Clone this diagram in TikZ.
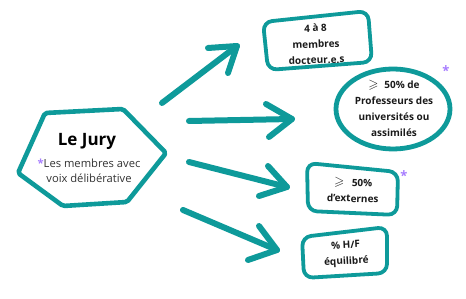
\documentclass[tikz,border=0pt]{standalone}
\usepackage{amssymb}
\usepackage{fontspec}
\setmainfont{Open Sans}
\definecolor{teal1}{HTML}{0E9A9A}
\definecolor{star}{HTML}{A67CFF}
\definecolor{txt}{HTML}{1A1A1A}
\newcommand{\bigge}{{\fontsize{13}{13}\selectfont$\geqslant$}}
\tikzset{
  outline/.style={draw=teal1, line width=4.6pt, line join=round, rounded corners=2pt},
  boxline/.style={draw=teal1, line width=3.8pt, rounded corners=9pt, line join=round},
  shaft/.style={draw=teal1, line width=6pt, line cap=round},
  chevron/.style={draw=teal1, line width=6pt, line cap=round, line join=round},
  boxtext/.style={font=\bfseries\fontsize{10}{16}\selectfont, text=txt, align=center, inner sep=0pt},
  staricon/.style={text=star, font=\bfseries\fontsize{13}{13}\selectfont, inner sep=0pt}
}
\begin{document}
\begin{tikzpicture}[x=1pt,y=-1pt]
\useasboundingbox (0,0) rectangle (466,299);
% hexagon
\coordinate (h1) at (45,113);
\coordinate (h2) at (123,109);
\coordinate (h3) at (166,153);
\coordinate (h4) at (127,202);
\coordinate (h5) at (63,206);
\coordinate (h6) at (18,173);
\draw[outline] (h1) -- (h2) -- (h3) -- (h4) -- (h5) -- (h6) -- cycle;
\node[font=\bfseries\fontsize{17}{18}\selectfont, text=black, inner sep=0pt] (jury) at (87,141) {Le Jury};
\node[font=\fontsize{11.2}{15}\selectfont, text=black!80, align=center, inner sep=0pt] (sub) at (89,171)
  {\textcolor{star}{\bfseries*}Les membres avec\\voix délibérative};

% arrows
\coordinate (a1s) at (162,103); \coordinate (a1e) at (237,46);
\coordinate (a1w1) at (208,48); \coordinate (a1w2) at (228,73);
\coordinate (a2s) at (189,121); \coordinate (a2e) at (292,119);
\coordinate (a2w1) at (266,104); \coordinate (a2w2) at (269,137);
\coordinate (a3s) at (189,162); \coordinate (a3e) at (287,187);
\coordinate (a3w1) at (268,166); \coordinate (a3w2) at (259,196);
\coordinate (a4s) at (183,210); \coordinate (a4e) at (277,250);
\coordinate (a4w1) at (259,226); \coordinate (a4w2) at (248,260);
\draw[shaft] (a1s) -- (a1e);
\draw[chevron] (a1w1) -- (a1e) -- (a1w2);
\draw[shaft] (a2s) -- (a2e);
\draw[chevron] (a2w1) -- (a2e) -- (a2w2);
\draw[shaft] (a3s) -- (a3e);
\draw[chevron] (a3w1) -- (a3e) -- (a3w2);
\draw[shaft] (a4s) -- (a4e);
\draw[chevron] (a4w1) -- (a4e) -- (a4w2);

% box 1
\draw[boxline] (263,22) -- (368,11) -- (372,62) -- (268,70) -- cycle;
\node[boxtext, rotate=2] (b1) at (316,44) {4 à 8\\membres\\docteur.e.s};

% ellipse
\draw[draw=teal1, line width=4.8pt] (393,109) ellipse [x radius=57pt, y radius=40pt];
\node[boxtext] (b2) at (394,108) {\bigge\,\, 50\% de\\Professeurs des\\universités ou\\assimilés};
\node[staricon] (s2) at (446,71) {*};

% box 3
\draw[boxline] (307,163) -- (398,172) -- (397,215) -- (308,211) -- cycle;
\node[boxtext, rotate=-2] (b3) at (353,190) {\bigge\,\,\, 50\%\\d'externes};
\node[staricon] (s3) at (404,176) {*};

% box 4
\draw[boxline] (302,237) -- (387,227) -- (387,273) -- (304,278) -- cycle;
\node[boxtext, rotate=3] (b4) at (346,254) {\% H/F\\équilibré};
\end{tikzpicture}
\end{document}
